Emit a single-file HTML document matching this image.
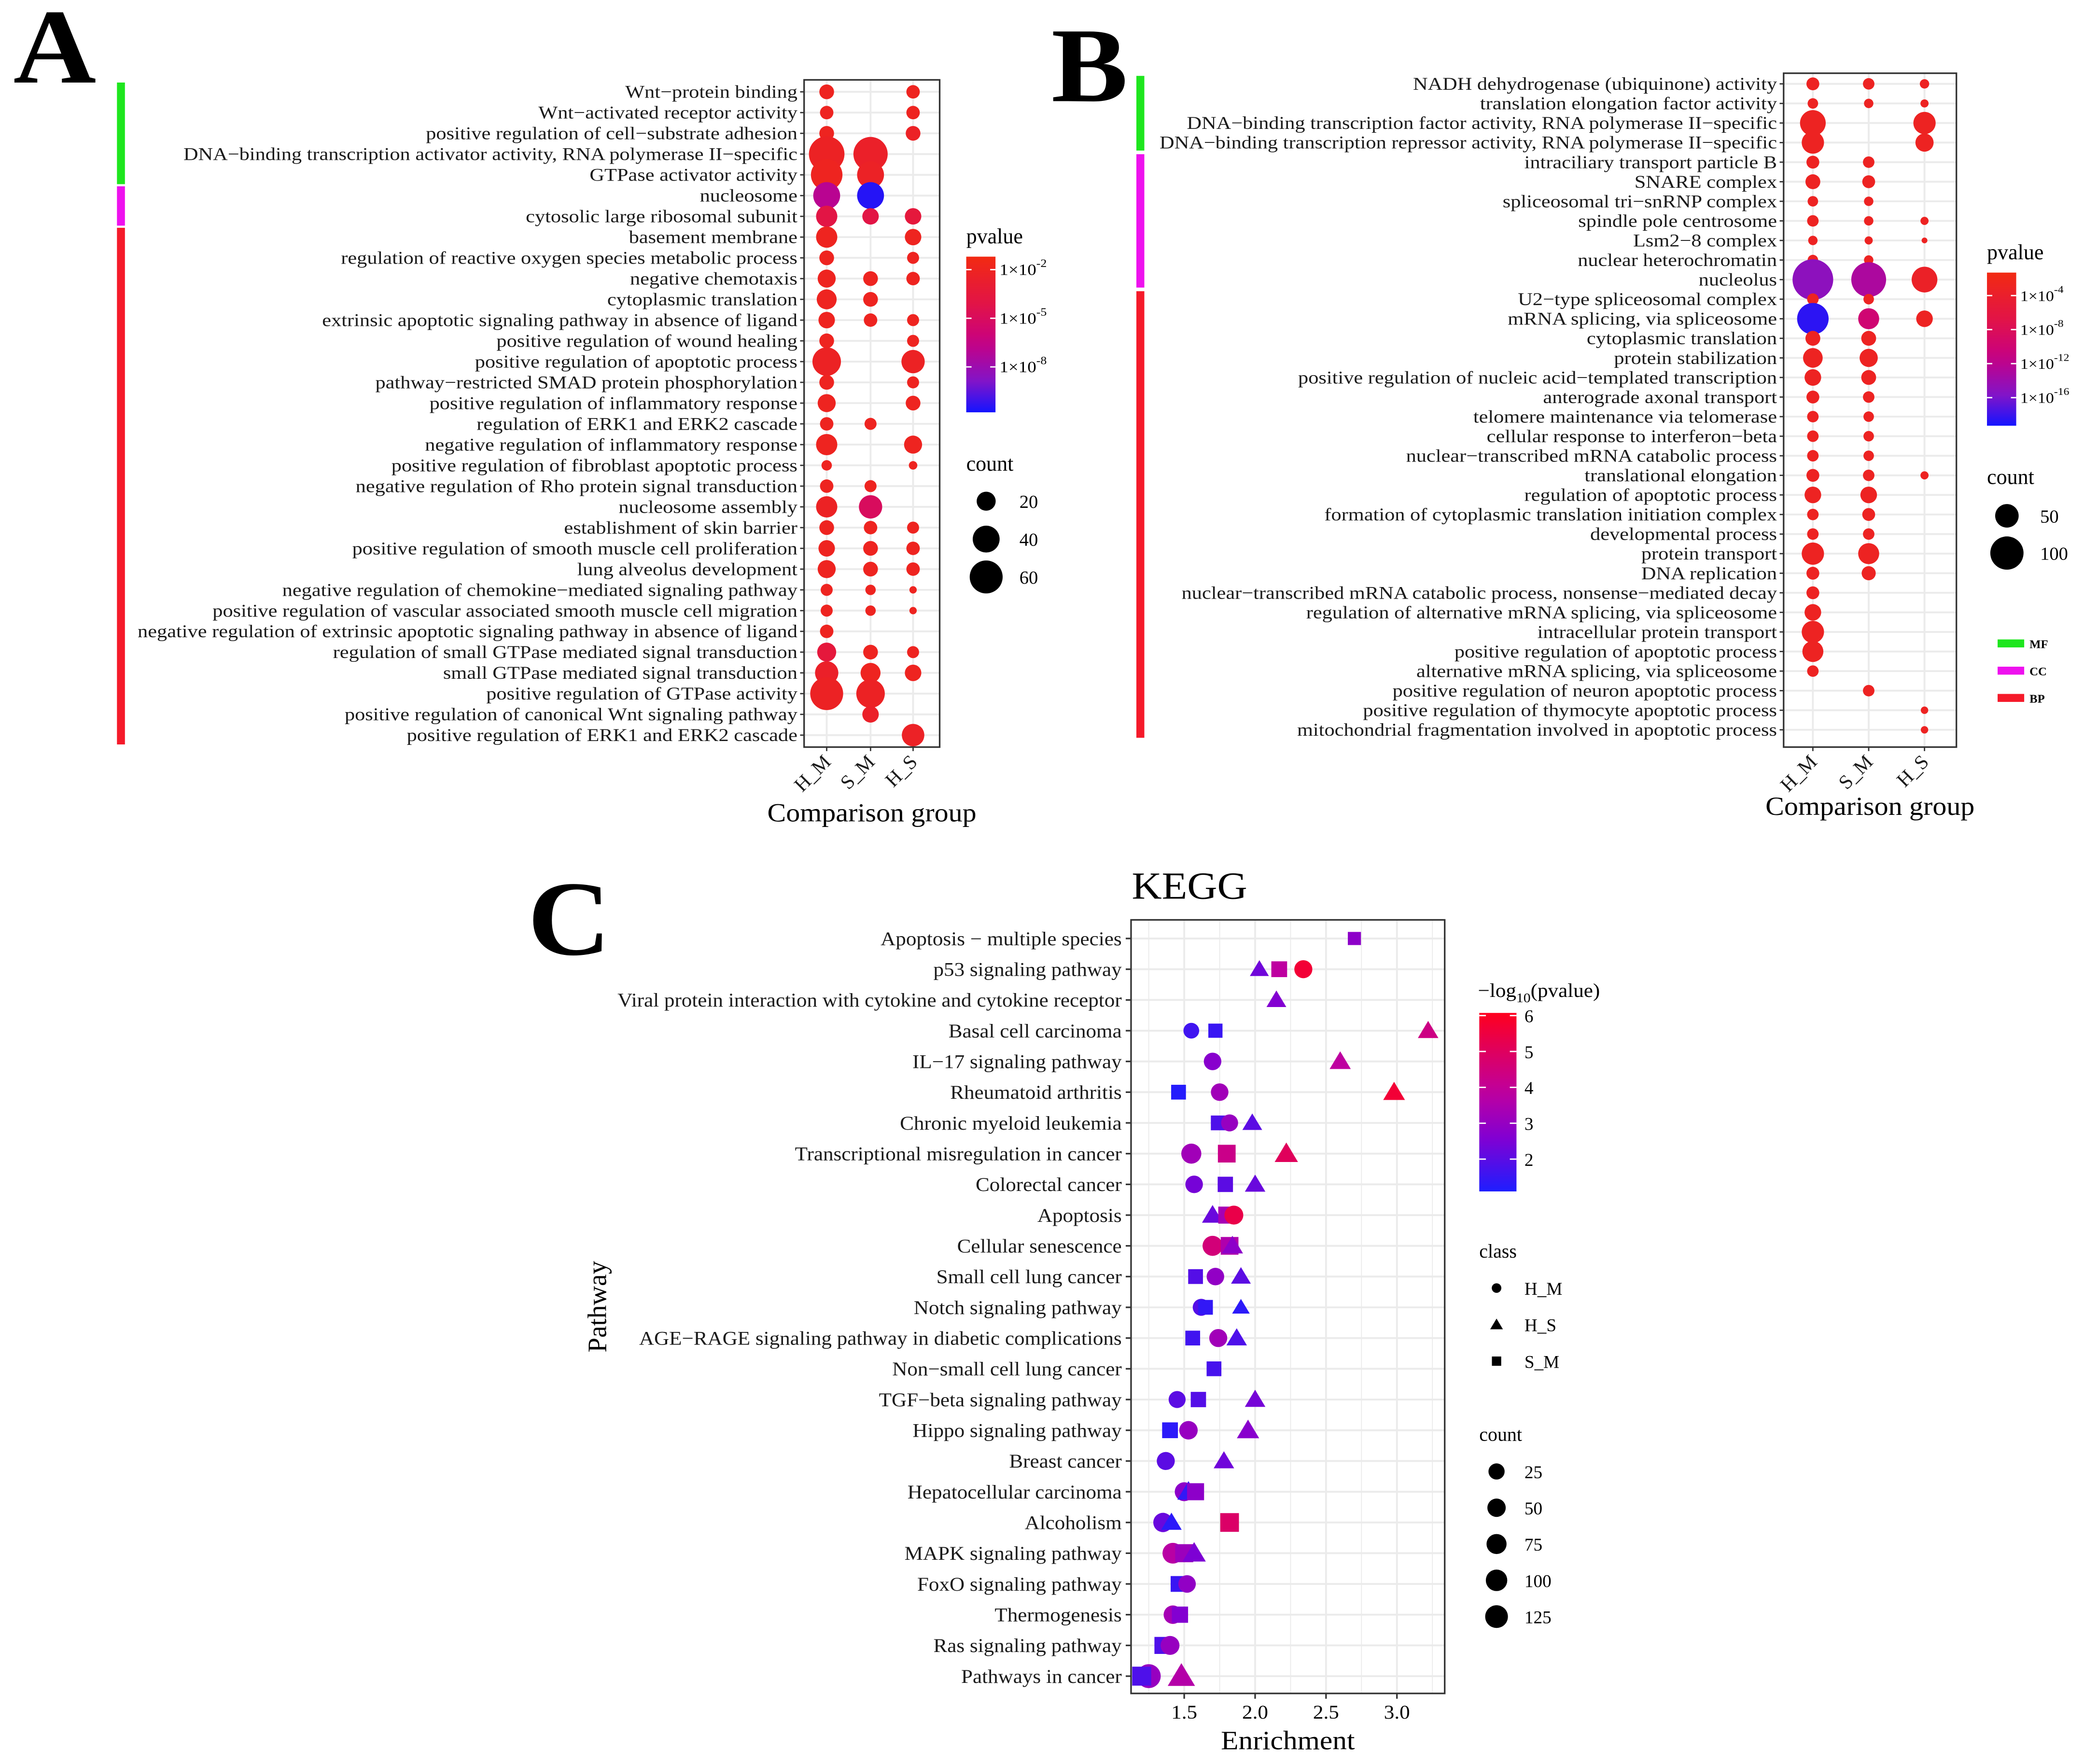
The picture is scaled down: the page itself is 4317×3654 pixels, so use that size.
<!DOCTYPE html>
<html><head><meta charset="utf-8"><style>
html,body{margin:0;padding:0;background:#fff;}
svg{display:block;font-family:"Liberation Serif",serif;}
</style></head><body>
<svg id="fig" width="4317" height="3654" viewBox="0 0 1568 1327" xmlns="http://www.w3.org/2000/svg">
<rect width="1568" height="1327" fill="#fff"/>
<g id="gA"></g>
<g id="gB"></g>
<g id="gC"></g>
</svg>
<script>
// ---------- Panel A data ----------
const aTerms=["Wnt−protein binding","Wnt−activated receptor activity","positive regulation of cell−substrate adhesion","DNA−binding transcription activator activity, RNA polymerase II−specific","GTPase activator activity","nucleosome","cytosolic large ribosomal subunit","basement membrane","regulation of reactive oxygen species metabolic process","negative chemotaxis","cytoplasmic translation","extrinsic apoptotic signaling pathway in absence of ligand","positive regulation of wound healing","positive regulation of apoptotic process","pathway−restricted SMAD protein phosphorylation","positive regulation of inflammatory response","regulation of ERK1 and ERK2 cascade","negative regulation of inflammatory response","positive regulation of fibroblast apoptotic process","negative regulation of Rho protein signal transduction","nucleosome assembly","establishment of skin barrier","positive regulation of smooth muscle cell proliferation","lung alveolus development","negative regulation of chemokine−mediated signaling pathway","positive regulation of vascular associated smooth muscle cell migration","negative regulation of extrinsic apoptotic signaling pathway in absence of ligand","regulation of small GTPase mediated signal transduction","small GTPase mediated signal transduction","positive regulation of GTPase activity","positive regulation of canonical Wnt signaling pathway","positive regulation of ERK1 and ERK2 cascade"];
const aGroups=["H_M","S_M","H_S"];
const aCountHM=[12,10,12,70,55,40,25,25,12,18,22,15,12,45,12,18,10,25,6,10,25,12,15,18,8,8,10,20,30,60,0,0];
const aCountSM=[0,0,0,65,40,40,15,0,0,12,12,10,0,0,0,0,8,0,0,8,30,10,12,12,6,6,0,12,22,45,15,0];
const aCountHS=[10,10,12,0,0,0,15,15,8,10,0,8,8,30,8,12,0,18,4,0,0,8,10,10,3,3,0,8,15,0,0,28];
const aLogpHM=[-2,-2,-2,-2.2,-2,-7,-4,-2,-2,-2,-2,-2,-2,-2.2,-2,-2,-2,-2,-2,-2,-2.2,-2,-2,-2,-2,-2,-2,-3.5,-2.5,-2.2,-2,-2];
const aLogpSM=[-2,-2,-2,-2.5,-2.3,-10.5,-4,-2,-2,-2,-2,-2,-2,-2,-2,-2,-2,-2,-2,-2,-5,-2,-2,-2,-2,-2,-2,-2,-2,-2.2,-2.5,-2];
const aLogpHS=[-2,-2,-2.3,-2,-2,-2,-3.5,-2,-2,-2,-2,-2,-2,-2.2,-2,-2,-2,-2,-2,-2,-2,-2,-2,-2,-2,-2,-2,-2,-2,-2,-2,-2.3];
const aSideCats=["MF","CC","BP"];
const aSideCounts=[5,2,25];
const aPTicks=[-2,-5,-8];
const aCountTicks=[20,40,60];

// ---------- Panel B data ----------
const bTerms=["NADH dehydrogenase (ubiquinone) activity","translation elongation factor activity","DNA−binding transcription factor activity, RNA polymerase II−specific","DNA−binding transcription repressor activity, RNA polymerase II−specific","intraciliary transport particle B","SNARE complex","spliceosomal tri−snRNP complex","spindle pole centrosome","Lsm2−8 complex","nuclear heterochromatin","nucleolus","U2−type spliceosomal complex","mRNA splicing, via spliceosome","cytoplasmic translation","protein stabilization","positive regulation of nucleic acid−templated transcription","anterograde axonal transport","telomere maintenance via telomerase","cellular response to interferon−beta","nuclear−transcribed mRNA catabolic process","translational elongation","regulation of apoptotic process","formation of cytoplasmic translation initiation complex","developmental process","protein transport","DNA replication","nuclear−transcribed mRNA catabolic process, nonsense−mediated decay","regulation of alternative mRNA splicing, via spliceosome","intracellular protein transport","positive regulation of apoptotic process","alternative mRNA splicing, via spliceosome","positive regulation of neuron apoptotic process","positive regulation of thymocyte apoptotic process","mitochondrial fragmentation involved in apoptotic process"];
const bGroups=["H_M","S_M","H_S"];
const bCountHM=[15,10,60,45,15,20,10,12,8,10,150,12,90,20,35,25,15,12,12,12,15,25,12,12,45,15,15,25,45,40,12,0,0,0];
const bCountSM=[12,8,0,0,12,15,8,8,6,8,110,10,40,20,30,20,12,10,10,10,12,25,15,12,40,18,0,0,0,0,0,12,0,0];
const bCountHS=[8,6,45,30,0,0,0,6,3,0,60,0,25,0,0,0,0,0,0,0,6,0,0,0,0,0,0,0,0,0,0,0,5,5];
const bLogpHM=[-3,-3,-3,-3,-3,-3,-3,-3,-3,-3,-15,-3,-18.5,-3,-3,-3,-3,-3,-3,-3,-3,-3,-3,-3,-3,-3,-3,-3,-3,-3,-3,-3,-3,-3];
const bLogpSM=[-3,-3,-3,-3,-3,-3,-3,-3,-3,-3,-13,-3,-10,-3,-3,-3,-3,-3,-3,-3,-3,-3,-3,-3,-3,-3,-3,-3,-3,-3,-3,-3,-3,-3];
const bLogpHS=[-3,-3,-3,-3,-3,-3,-3,-3,-3,-3,-3.5,-3,-3,-3,-3,-3,-3,-3,-3,-3,-3,-3,-3,-3,-3,-3,-3,-3,-3,-3,-3,-3,-3,-3];
const bSideCats=["MF","CC","BP"];
const bSideCounts=[4,7,23];
const bPTicks=[-4,-8,-12,-16];
const bCountTicks=[50,100];

// ---------- Panel C data ----------
const cPathways=["Apoptosis − multiple species","p53 signaling pathway","Viral protein interaction with cytokine and cytokine receptor","Basal cell carcinoma","IL−17 signaling pathway","Rheumatoid arthritis","Chronic myeloid leukemia","Transcriptional misregulation in cancer","Colorectal cancer","Apoptosis","Cellular senescence","Small cell lung cancer","Notch signaling pathway","AGE−RAGE signaling pathway in diabetic complications","Non−small cell lung cancer","TGF−beta signaling pathway","Hippo signaling pathway","Breast cancer","Hepatocellular carcinoma","Alcoholism","MAPK signaling pathway","FoxO signaling pathway","Thermogenesis","Ras signaling pathway","Pathways in cancer"];
const cRow=[0,1,1,1,2,3,3,3,4,4,5,5,5,6,6,6,7,7,7,8,8,8,9,9,9,10,10,10,11,11,11,12,12,12,13,13,13,14,15,15,15,16,16,16,17,17,18,18,18,19,19,19,20,20,20,21,21,22,22,23,23,24,24,24];
const cClass=["S_M","H_S","S_M","H_M","H_S","H_M","S_M","H_S","H_M","H_S","S_M","H_M","H_S","S_M","H_M","H_S","H_M","S_M","H_S","H_M","S_M","H_S","H_S","S_M","H_M","H_M","S_M","H_S","S_M","H_M","H_S","H_M","S_M","H_S","S_M","H_M","H_S","S_M","H_M","S_M","H_S","S_M","H_M","H_S","H_M","H_S","H_M","H_S","S_M","H_M","H_S","S_M","H_M","S_M","H_S","S_M","H_M","H_M","S_M","S_M","H_M","H_M","S_M","H_S"];
const cEnrich=[2.70,2.03,2.17,2.34,2.15,1.55,1.72,3.22,1.70,2.60,1.46,1.75,2.98,1.74,1.82,1.98,1.55,1.80,2.22,1.57,1.79,2.00,1.70,1.80,1.85,1.70,1.82,1.84,1.58,1.72,1.90,1.62,1.65,1.90,1.56,1.74,1.87,1.71,1.45,1.60,2.00,1.40,1.53,1.95,1.37,1.78,1.50,1.53,1.58,1.35,1.41,1.82,1.42,1.50,1.57,1.46,1.52,1.42,1.47,1.35,1.40,1.25,1.20,1.48];
const cLogp=[2.8,2.3,3.8,5.6,2.6,1.6,1.5,4.3,2.7,3.8,1.2,3.2,5.6,1.8,3.0,2.0,3.2,4.2,5.0,2.4,2.0,2.2,2.2,3.3,5.3,4.5,3.5,2.8,1.9,2.9,2.0,1.9,1.4,1.3,1.6,3.2,1.8,1.7,2.0,1.9,2.4,1.3,3.0,2.7,2.0,2.3,2.8,1.4,2.8,2.2,1.3,4.8,3.7,3.1,2.5,1.5,2.9,3.3,2.6,1.8,3.0,3.0,1.8,3.6];
const cCount=[8,15,30,35,20,15,15,25,30,30,20,30,35,20,25,20,60,55,50,30,25,25,30,45,45,60,55,30,20,30,20,25,20,8,20,35,25,20,25,25,25,30,40,40,35,25,45,40,45,50,25,70,70,60,50,30,30,40,35,45,45,125,75,100];
const cXTicks=[1.5,2.0,2.5,3.0];
const cLegendTicks=[6,5,4,3,2];
const cClassNames=["H_M","H_S","S_M"];
const cCountTicks=[25,50,75,100,125];

const NS="http://www.w3.org/2000/svg";
function mk(parent,tag,attrs,text){const e=document.createElementNS(NS,tag);for(const k in attrs)e.setAttribute(k,attrs[k]);if(text!==undefined)e.textContent=text;parent.appendChild(e);return e;}
// horizontally stretched text
function stext(parent,x,y,sx,attrs,text){const a=Object.assign({},attrs);a.x=0;a.y=0;a.transform=`translate(${x} ${y}) scale(${sx} 1)`;return mk(parent,'text',a,text);}
function lerpC(stops,t){t=Math.max(0,Math.min(1,t));for(let i=0;i<stops.length-1;i++){const a=stops[i],b=stops[i+1];if(t<=b[0]){const f=(t-a[0])/(b[0]-a[0]);const r=Math.round(a[1][0]+(b[1][0]-a[1][0])*f),g=Math.round(a[1][1]+(b[1][1]-a[1][1])*f),bb=Math.round(a[1][2]+(b[1][2]-a[1][2])*f);return `rgb(${r},${g},${bb})`;}}return `rgb(${stops[stops.length-1][1].join(',')})`;}
const abStops=[[0,[242,42,18]],[0.3,[226,20,70]],[0.55,[200,0,130]],[0.8,[130,20,200]],[1,[20,20,255]]];
const cStops=[[0,[30,30,255]],[0.3,[130,0,210]],[0.55,[190,0,160]],[0.8,[225,0,90]],[1,[255,0,30]]];

function dotPanel(g,cfg){
  const n=cfg.terms.length;
  const yOf=i=>cfg.y0+i*(cfg.y1-cfg.y0)/(n-1);
  const xOf=j=>cfg.cols[j];
  const pY=lp=>cfg.gTop+(cfg.lpTop-lp)*cfg.pxPerDec;
  const colOf=lp=>lerpC(abStops,(cfg.lpTop-lp)/(cfg.lpTop-cfg.lpBot));
  const bg=mk(g,'rect',{x:cfg.px0,y:cfg.py0,width:cfg.px1-cfg.px0,height:cfg.py1-cfg.py0,fill:'#fff'});
  
  
  for(let i=0;i<n;i++){const l=mk(g,'line',{x1:cfg.px0,x2:cfg.px1,y1:yOf(i),y2:yOf(i),stroke:'#ebebeb','stroke-width':1.4});
    
    }
  for(let j=0;j<3;j++){const l=mk(g,'line',{x1:xOf(j),x2:xOf(j),y1:cfg.py0,y2:cfg.py1,stroke:'#ebebeb','stroke-width':1.4});
    
    }
  const counts=[cfg.cHM,cfg.cSM,cfg.cHS],lps=[cfg.pHM,cfg.pSM,cfg.pHS];
  for(let j=0;j<3;j++)for(let i=0;i<n;i++){const c=counts[j][i];if(!c)continue;
    const d=mk(g,'circle',{cx:xOf(j),cy:yOf(i),r:Math.sqrt(c)*cfg.rk,fill:colOf(lps[j][i])});
    
    }
  const fr=mk(g,'rect',{x:cfg.px0,y:cfg.py0,width:cfg.px1-cfg.px0,height:cfg.py1-cfg.py0,fill:'none',stroke:'#333','stroke-width':1.2});
  
  
  for(let i=0;i<n;i++){
    mk(g,'line',{x1:cfg.px0-3,x2:cfg.px0,y1:yOf(i),y2:yOf(i),stroke:'#333','stroke-width':1});
    const t=stext(g,cfg.px0-5,yOf(i)+4.5,1.14,{'text-anchor':'end','font-size':cfg.fs,fill:'#1a1a1a'},cfg.terms[i]);
    
    }
  for(let j=0;j<3;j++){
    mk(g,'line',{x1:xOf(j),x2:xOf(j),y1:cfg.py1,y2:cfg.py1+3,stroke:'#333','stroke-width':1});
    const t=mk(g,'text',{x:xOf(j)+4,y:cfg.py1+12,'text-anchor':'end','font-size':cfg.fs+1.5,fill:'#1a1a1a',transform:`rotate(-45 ${xOf(j)+4} ${cfg.py1+12})`},cfg.groups[j]);
    
    }
  const xt=stext(g,(cfg.px0+cfg.px1)/2,cfg.xtY,1.08,{'text-anchor':'middle','font-size':19.5},'Comparison group');
  
  
  const tot=cfg.sideCounts.reduce((a,b)=>a+b,0);let acc=0;const sc=['#1ee61e','#ee11ee','#f51a2a'];
  for(let k=0;k<3;k++){const s=yOf(acc)-cfg.sidePad,e=yOf(acc+cfg.sideCounts[k]-1)+cfg.sidePad;acc+=cfg.sideCounts[k];
    const r=mk(g,'rect',{x:cfg.sideX,y:s+1,width:6,height:e-s-2,fill:sc[k]});
    
    }
  const lt=mk(g,'text',{x:cfg.lgX,y:cfg.gTop-10,'font-size':16},'pvalue');
  
  
  const gid='grad'+cfg.id;const defs=mk(g,'defs',{});const lg=mk(defs,'linearGradient',{id:gid,x1:0,y1:0,x2:0,y2:1});
  for(let k=0;k<=10;k++)mk(lg,'stop',{offset:k/10,'stop-color':lerpC(abStops,k/10)});
  const gb=mk(g,'rect',{x:cfg.lgX,y:cfg.gTop,width:22,height:(cfg.lpTop-cfg.lpBot)*cfg.pxPerDec,fill:`url(#${gid})`});
  
  
  cfg.pTicks.forEach(p=>{const y=pY(p);
    mk(g,'line',{x1:cfg.lgX,x2:cfg.lgX+4,y1:y,y2:y,stroke:'#fff','stroke-width':1});
    mk(g,'line',{x1:cfg.lgX+18,x2:cfg.lgX+22,y1:y,y2:y,stroke:'#fff','stroke-width':1});
    const t=stext(g,cfg.lgX+25,y+4,1.12,{'font-size':cfg.lfs},'1×10');
    mk(t,'tspan',{dy:-6,'font-size':cfg.lfs*0.7},String(p));
    
    });
  const ct=mk(g,'text',{x:cfg.lgX,y:cfg.cntY,'font-size':16},'count');
  
  
  cfg.countTicks.forEach((c,k)=>{const y=cfg.cntY+cfg.cnt0+k*cfg.cntStep;
    const d=mk(g,'circle',{cx:cfg.lgX+15,cy:y,r:Math.sqrt(c)*cfg.rk,fill:'#000'});
    
    
    const t=mk(g,'text',{x:cfg.lgX+40,y:y+5,'font-size':14},String(c));
    
    });
}

dotPanel(document.getElementById('gA'),{id:'A',terms:aTerms,groups:aGroups,cHM:aCountHM,cSM:aCountSM,cHS:aCountHS,pHM:aLogpHM,pSM:aLogpSM,pHS:aLogpHS,
  y0:69,y1:553,cols:[622,655,687],px0:605,px1:707,py0:60,py1:562,rk:1.6,fs:13.5,xtY:618,
  sideCats:aSideCats,sideCounts:aSideCounts,sideX:88,sidePad:8,
  lgX:727,gTop:193,lpTop:-1.2,lpBot:-10.8,pxPerDec:12.2,lfs:12,pTicks:aPTicks,cntY:354,countTicks:aCountTicks,cntStep:28.5,cnt0:23});
dotPanel(document.getElementById('gB'),{id:'B',terms:bTerms,groups:bGroups,cHM:bCountHM,cSM:bCountSM,cHS:bCountHS,pHM:bLogpHM,pSM:bLogpSM,pHS:bLogpHS,
  y0:63,y1:549,cols:[1364,1406,1448],px0:1342,px1:1472,py0:55,py1:562,rk:1.25,fs:13.5,xtY:613,
  sideCats:bSideCats,sideCounts:bSideCounts,sideX:855,sidePad:7,
  lgX:1495,gTop:205,lpTop:-1.3,lpBot:-19.3,pxPerDec:6.4,lfs:11,pTicks:bPTicks,cntY:364,countTicks:bCountTicks,cntStep:28,cnt0:24});

(function(){const g=document.getElementById('gB');const sc=['#1ee61e','#ee11ee','#f51a2a'];
  bSideCats.forEach((c,k)=>{const y=484+k*20.5;
    const r=mk(g,'rect',{x:1503,y:y-3,width:20,height:6,fill:sc[k]});
    
    
    const t=mk(g,'text',{x:1527,y:y+3.5,'font-size':9,'font-weight':'bold'},c);
    
    });})();

[['A',10,62],['B',791,76],['C',397,718]].forEach(([l,x,y])=>{const t=stext(document.getElementById('g'+l),x,y,1.08,{'font-size':80,'font-weight':'bold'},l);
  
  });

(function(){
  const g=document.getElementById('gC');
  const px0=851,px1=1087,py0=692,py1=1274;
  const xS=v=>891+(v-1.5)*106.7;
  const yS=i=>706+i*(1261-706)/(cPathways.length-1);
  const colS=v=>lerpC(cStops,(v-1.1)/(6-1.1));
  const rS=c=>4.3+Math.sqrt(c)*0.42;
  const bg=mk(g,'rect',{x:px0,y:py0,width:px1-px0,height:py1-py0,fill:'#fff'});
  
  
  for(let v=1.25;v<=3.3;v+=0.25){const major=Math.abs(v*2-Math.round(v*2))<1e-6;
    const l=mk(g,'line',{x1:xS(v),x2:xS(v),y1:py0,y2:py1,stroke:'#ebebeb','stroke-width':major?1.4:0.7});
    
    }
  cPathways.forEach((p,i)=>{const l=mk(g,'line',{x1:px0,x2:px1,y1:yS(i),y2:yS(i),stroke:'#ebebeb','stroke-width':1.4});
    
    
    mk(g,'line',{x1:px0-4,x2:px0,y1:yS(i),y2:yS(i),stroke:'#333','stroke-width':1.2});
    const t=stext(g,px0-7,yS(i)+5,1.08,{'text-anchor':'end','font-size':14.5,fill:'#1a1a1a'},p);
    
    });
  for(let k=0;k<cRow.length;k++){
    const x=xS(cEnrich[k]),y=yS(cRow[k]),r=rS(cCount[k]),f=colS(cLogp[k]);let e;
    if(cClass[k]==='H_M')e=mk(g,'circle',{cx:x,cy:y,r:r,fill:f});
    else if(cClass[k]==='S_M'){const s=r*0.9;e=mk(g,'rect',{x:x-s,y:y-s,width:2*s,height:2*s,fill:f});}
    else{const s=r*1.15;e=mk(g,'polygon',{points:`${x},${y-s} ${x+s*1.05},${y+s*0.75} ${x-s*1.05},${y+s*0.75}`,fill:f});}
    
    }
  const fr=mk(g,'rect',{x:px0,y:py0,width:px1-px0,height:py1-py0,fill:'none',stroke:'#333','stroke-width':1.2});
  
  
  cXTicks.forEach(v=>{mk(g,'line',{x1:xS(v),x2:xS(v),y1:py1,y2:py1+4,stroke:'#333','stroke-width':1.2});
    const t=stext(g,xS(v),py1+19,1.08,{'text-anchor':'middle','font-size':14.5},v.toFixed(1));
    
    });
  let t=stext(g,969,1316,1.08,{'text-anchor':'middle','font-size':20},'Enrichment');
  
  
  t=mk(g,'text',{x:456,y:983,'text-anchor':'middle','font-size':20,transform:'rotate(-90 456 983)'},'Pathway');
  
  
  t=stext(g,895,676,1.08,{'text-anchor':'middle','font-size':29},'KEGG');
  
  
  t=stext(g,1112,750,1.08,{'font-size':14.5},'−log');
  mk(t,'tspan',{dy:4,'font-size':10},'10');
  mk(t,'tspan',{dy:-4},'(pvalue)');
  
  
  const defs=mk(g,'defs',{});const lg=mk(defs,'linearGradient',{id:'gradC',x1:0,y1:1,x2:0,y2:0});
  for(let k=0;k<=10;k++)mk(lg,'stop',{offset:k/10,'stop-color':lerpC(cStops,k/10)});
  const ly=v=>764+(6-v)*27;
  const gb=mk(g,'rect',{x:1113,y:ly(6)-2,width:28,height:ly(1.1)-ly(6)+2,fill:'url(#gradC)'});
  
  
  cLegendTicks.forEach(v=>{mk(g,'line',{x1:1113,x2:1118,y1:ly(v),y2:ly(v),stroke:'#fff'});mk(g,'line',{x1:1136,x2:1141,y1:ly(v),y2:ly(v),stroke:'#fff'});
    const tt=mk(g,'text',{x:1147,y:ly(v)+5,'font-size':13.5},String(v));
    
    });
  t=mk(g,'text',{x:1113,y:946,'font-size':14.5},'class');
  
  
  cClassNames.forEach((c,k)=>{const y=969+k*27.5,x=1126;let e;
    if(c==='H_M')e=mk(g,'circle',{cx:x,cy:y,r:3.6,fill:'#000'});
    else if(c==='H_S')e=mk(g,'polygon',{points:`${x},${y-4.5} ${x+4.8},${y+3.5} ${x-4.8},${y+3.5}`,fill:'#000'});
    else e=mk(g,'rect',{x:x-3.5,y:y-3.5,width:7,height:7,fill:'#000'});
    
    
    const tt=mk(g,'text',{x:1147,y:y+5,'font-size':13.5},c);
    
    });
  t=mk(g,'text',{x:1113,y:1084,'font-size':14.5},'count');
  
  
  cCountTicks.forEach((c,k)=>{const y=1107+k*27.3;
    const e=mk(g,'circle',{cx:1126,cy:y,r:rS(c)*0.95,fill:'#000'});
    
    
    const tt=mk(g,'text',{x:1147,y:y+5,'font-size':13.5},String(c));
    
    });
})();
</script>
</body></html>
